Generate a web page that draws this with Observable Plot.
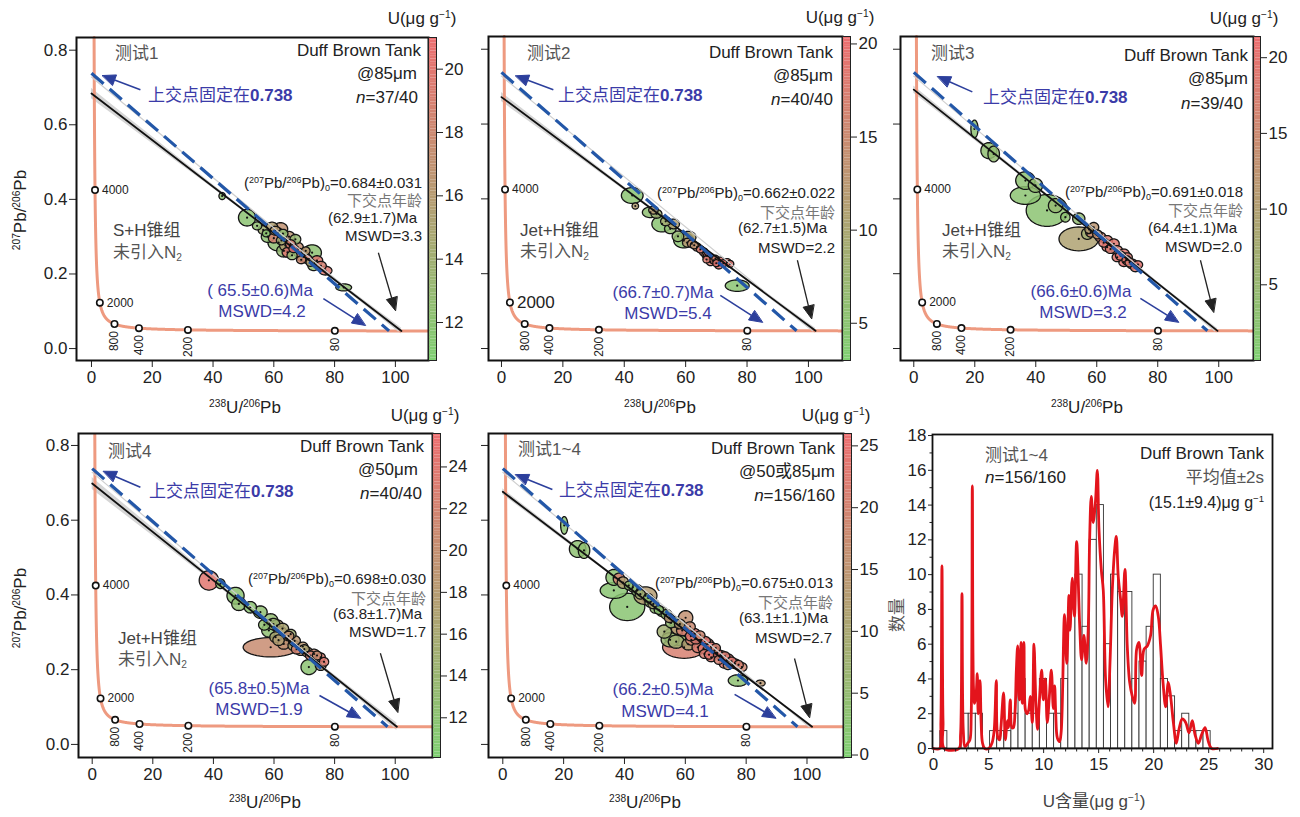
<!DOCTYPE html>
<html><head><meta charset="utf-8">
<script src="https://cdn.jsdelivr.net/npm/d3@7"></script>
<script src="https://cdn.jsdelivr.net/npm/@observablehq/plot@0.6"></script>
<style>
body{margin:0;background:#fff;}
#root{position:relative;width:1300px;height:817px;overflow:hidden;font-family:"Liberation Sans",Arial,"Noto Sans CJK SC",sans-serif;}
#root svg{position:absolute;overflow:visible;}
.abs{position:absolute;white-space:nowrap;line-height:1;}
.sup{font-size:0.6em;position:relative;top:-0.6em;}
.sub{font-size:0.6em;position:relative;top:0.3em;}
</style></head>
<body><div id="root"></div>
<script>
// ---------------- DATA ----------------
// Tera-Wasserburg concordia constants (decay constants per Ma, 238U/235U)
const LAMBDA238 = 1.55125e-4, LAMBDA235 = 9.8485e-4, U238_U235 = 137.88;
const concordiaAges = [4000, 2000, 800, 400, 200, 80];

const panelNames = ["测试1", "测试2", "测试3", "测试4", "测试1~4"];
const spotSizes = ["@85μm", "@85μm", "@85μm", "@50μm", "@50或85μm"];
const nCounts = ["37/40", "40/40", "39/40", "40/40", "156/160"];
const groupNames = ["S+H锥组", "Jet+H锥组", "Jet+H锥组", "Jet+H锥组", null];
const initialPb = ["0.684±0.031", "0.662±0.022", "0.691±0.018", "0.698±0.030", "0.675±0.013"];
const freeAges = [62.9, 62.7, 64.4, 63.8, 63.1];
const freeAgeErr = [1.7, 1.5, 1.1, 1.7, 1.1];
const freeMSWD = [3.3, 2.2, 2.0, 1.7, 2.7];
const freeLineY0 = [0.684, 0.672, 0.692, 0.698, 0.676];
const freeBand = [[0.014, 0.003, 0.008], [0.012, 0.003, 0.007], [0.010, 0.003, 0.006], [0.016, 0.004, 0.010], [0.008, 0.002, 0.004]];
const fixedAges = [65.5, 66.7, 66.6, 65.8, 66.2];
const fixedAgeErr = [0.6, 0.7, 0.6, 0.5, 0.5];
const fixedMSWD = [4.2, 5.4, 3.2, 1.9, 4.1];
const upperFixed = 0.738;

const uDomains = [[10.8, 21], [3, 20.4], [0, 21.4], [10.1, 25.6], [-0.2, 26]];
const uTicks = [[12, 14, 16, 18, 20], [5, 10, 15, 20], [5, 10, 15, 20], [12, 14, 16, 18, 20, 22, 24], [0, 5, 10, 15, 20, 25]];
const xTicks = [0, 20, 40, 60, 80, 100];
const yTicks = [0, 0.2, 0.4, 0.6, 0.8];

// ellipses: [238U/206Pb, 207Pb/206Pb, x semi-axis, y semi-axis, U μg/g]
const ell1 = [
 [43.0,0.409,0.9,0.008,12.2],[51.2,0.351,2.4,0.019,12.0],[54.5,0.329,1.3,0.009,12.5],[57.5,0.309,1.1,0.008,12.0],
 [59.4,0.326,1.6,0.011,15.5],[62.2,0.321,2.0,0.014,17.0],[60.5,0.316,1.5,0.010,16.0],[61.6,0.284,3.0,0.019,12.3],
 [63.8,0.276,1.6,0.012,15.5],[65.5,0.280,1.4,0.010,19.5],[67.1,0.293,1.5,0.011,13.0],[65.0,0.300,1.6,0.012,16.5],
 [63.3,0.262,2.0,0.014,12.8],[66.5,0.268,1.3,0.009,20.5],[68.2,0.257,1.4,0.010,19.0],[70.5,0.262,1.2,0.009,16.5],
 [69.8,0.246,1.8,0.012,12.5],[72.6,0.257,2.6,0.018,12.2],[74.2,0.236,1.6,0.011,19.8],[73.1,0.222,1.6,0.011,12.5],
 [77.0,0.209,1.8,0.010,20.0],[83.0,0.164,2.2,0.008,12.5],
 [56.5,0.318,1.4,0.010,14.0],[58.0,0.300,1.8,0.013,12.2],[60.0,0.296,1.5,0.011,19.0],[62.5,0.290,1.4,0.010,14.5],
 [64.5,0.258,1.5,0.011,20.0],[66.0,0.250,1.4,0.010,12.8],[67.8,0.272,1.6,0.011,17.5],[69.0,0.238,1.3,0.009,18.0],
 [71.0,0.240,1.4,0.010,20.5],[75.5,0.222,1.5,0.010,19.0],[72.0,0.231,1.2,0.009,15.0],[63.0,0.308,1.4,0.010,12.5]];
const ell2 = [
 [42.6,0.409,3.0,0.018,5.0],[43.6,0.381,0.9,0.007,11.5],[48.5,0.364,2.2,0.012,5.5],[50.5,0.360,1.5,0.010,8.0],
 [52.3,0.333,2.8,0.018,4.8],[55.0,0.320,1.6,0.011,6.0],[56.1,0.333,1.6,0.011,11.0],[59.4,0.289,2.8,0.017,5.0],
 [61.0,0.298,2.0,0.013,10.5],[62.0,0.280,1.2,0.009,14.0],[63.7,0.271,1.2,0.009,16.0],[65.9,0.258,1.2,0.009,17.5],
 [66.5,0.250,1.0,0.008,15.0],[68.1,0.244,1.1,0.008,18.5],[69.7,0.240,1.0,0.008,16.0],[71.3,0.235,1.1,0.008,19.0],
 [73.5,0.231,1.1,0.008,18.0],[68.1,0.231,1.1,0.008,17.5],[70.8,0.222,1.1,0.008,19.5],[76.8,0.168,3.3,0.013,5.0],
 [64.8,0.265,1.1,0.008,18.0],[67.0,0.248,1.0,0.008,19.0],[69.0,0.236,1.1,0.008,17.0],[72.3,0.228,1.0,0.008,19.5],
 [74.5,0.226,1.0,0.008,18.5],[62.8,0.276,1.1,0.008,13.0],[57.5,0.300,1.6,0.012,6.5],[53.5,0.340,1.4,0.010,9.0],
 [49.5,0.370,1.3,0.009,12.0],[60.5,0.283,1.3,0.010,12.0],[66.8,0.238,1.0,0.008,18.0],[70.0,0.228,1.0,0.008,19.0]];
const ell3 = [
 [19.9,0.587,1.0,0.020,3.0],[24.6,0.529,2.2,0.018,3.5],[26.2,0.520,1.6,0.018,4.0],[36.6,0.449,2.7,0.020,3.0],
 [39.9,0.436,2.0,0.016,4.0],[36.6,0.409,4.2,0.020,2.5],[43.7,0.369,5.8,0.036,2.5],[46.5,0.382,2.0,0.016,4.5],
 [49.7,0.351,1.3,0.011,3.0],[54.1,0.347,1.7,0.013,4.0],[54.1,0.293,5.5,0.027,9.5],[56.9,0.307,1.6,0.013,7.0],
 [59.0,0.324,1.4,0.011,12.0],[61.2,0.298,1.5,0.011,17.5],[63.4,0.289,1.5,0.011,18.5],[65.6,0.280,1.5,0.011,19.0],
 [63.4,0.271,1.4,0.010,19.5],[66.7,0.262,1.5,0.011,18.0],[68.9,0.253,1.5,0.011,19.5],[70.0,0.244,1.4,0.010,18.5],
 [71.6,0.226,1.5,0.011,20.0],[72.7,0.217,1.4,0.010,19.0],[68.9,0.231,1.4,0.010,20.5],[66.7,0.244,1.4,0.010,19.5],
 [62.3,0.283,1.4,0.010,19.0],[64.5,0.266,1.4,0.010,18.0],[67.8,0.248,1.4,0.010,20.0],[69.8,0.236,1.3,0.010,19.0],
 [70.8,0.230,1.3,0.010,18.0],[58.0,0.311,1.4,0.011,15.0],[60.2,0.305,1.3,0.010,13.5],[73.5,0.224,1.3,0.009,20.0],
 [57.5,0.318,1.2,0.009,10.0]];
const ell4 = [
 [38.5,0.439,2.7,0.022,24.0],[42.3,0.430,1.3,0.011,12.0],[47.3,0.398,2.4,0.019,12.0],[48.4,0.376,2.0,0.015,12.5],
 [52.2,0.367,1.7,0.013,12.0],[55.5,0.354,1.9,0.014,12.5],[58.9,0.332,2.0,0.015,13.0],[58.9,0.260,7.7,0.022,20.5],
 [61.0,0.318,1.8,0.013,17.5],[58.3,0.305,2.0,0.015,12.5],[62.1,0.300,1.8,0.013,19.0],[60.5,0.287,1.6,0.012,16.0],
 [64.3,0.283,1.8,0.013,18.0],[65.5,0.295,1.5,0.011,15.0],[63.2,0.269,1.7,0.012,19.5],[66.5,0.265,1.6,0.012,17.0],
 [69.5,0.262,1.4,0.010,18.5],[68.8,0.251,1.5,0.011,19.0],[71.0,0.247,1.5,0.011,20.0],[73.2,0.242,1.5,0.011,21.5],
 [75.4,0.233,1.3,0.010,23.0],[71.5,0.207,2.2,0.017,12.0],[75.4,0.211,1.5,0.011,17.5],
 [59.8,0.322,1.8,0.013,14.0],[62.8,0.310,1.7,0.012,16.5],[64.8,0.290,1.5,0.011,20.0],[66.8,0.277,1.6,0.012,18.5],
 [67.5,0.255,1.5,0.011,22.0],[70.0,0.255,1.4,0.010,16.5],[72.0,0.238,1.4,0.010,22.5],[74.2,0.238,1.3,0.010,20.5],
 [76.5,0.221,1.3,0.010,23.5],[61.5,0.279,1.6,0.012,17.5],[56.8,0.320,1.6,0.012,12.5]];
const ell5 = [
 [20.2,0.586,1.0,0.020,3.0],[24.6,0.523,2.3,0.019,3.5],[26.7,0.519,1.6,0.018,4.0],[36.5,0.447,2.2,0.018,3.0],
 [38.2,0.443,1.6,0.013,21.0],[36.5,0.412,3.8,0.018,2.5],[41.4,0.425,1.2,0.010,4.0],[44.2,0.412,1.6,0.013,3.5],
 [40.9,0.368,4.9,0.031,2.5],[46.9,0.398,3.2,0.020,13.0],[48.6,0.381,1.6,0.012,5.0],[50.2,0.364,1.5,0.011,4.0],
 [52.4,0.355,1.5,0.011,6.0],[53.1,0.302,2.0,0.015,8.0],[55.3,0.325,1.5,0.011,5.0],[60.1,0.339,2.0,0.016,16.0],
 [58.5,0.291,4.9,0.022,3.0],[59.6,0.260,6.0,0.025,21.0],[55.0,0.280,2.5,0.016,6.0],[57.5,0.310,1.8,0.013,15.0],
 [60.8,0.301,1.6,0.012,23.0],[63.0,0.296,1.6,0.012,24.0],[62.0,0.280,1.6,0.012,21.0],[65.2,0.278,1.6,0.012,23.5],
 [67.4,0.269,1.6,0.012,24.5],[64.1,0.260,1.6,0.012,22.0],[66.3,0.242,1.4,0.010,22.0],[69.6,0.251,1.5,0.011,24.0],
 [68.5,0.233,1.4,0.010,23.5],[71.9,0.238,1.5,0.011,23.0],[72.8,0.216,1.4,0.010,24.0],[74.1,0.229,1.5,0.011,24.5],
 [76.3,0.216,1.5,0.011,22.5],[78.6,0.207,1.4,0.010,19.0],[77.3,0.171,2.7,0.013,3.5],[84.7,0.164,1.3,0.007,14.0],
 [39.5,0.433,1.6,0.013,12.0],[42.7,0.420,1.3,0.010,5.0],[45.2,0.402,1.4,0.011,8.0],[47.8,0.392,1.3,0.010,3.5],
 [49.5,0.376,1.5,0.011,10.0],[51.3,0.360,1.3,0.010,3.0],[53.8,0.348,1.5,0.011,5.0],[54.8,0.338,1.4,0.010,14.0],
 [56.5,0.328,1.6,0.012,8.0],[58.2,0.322,1.5,0.011,13.0],[61.5,0.315,1.5,0.011,18.0],[59.0,0.305,1.6,0.012,20.0],
 [61.8,0.290,1.5,0.011,23.5],[63.5,0.283,1.6,0.012,22.5],[64.8,0.292,1.4,0.010,19.0],[66.5,0.276,1.5,0.011,24.0],
 [66.0,0.257,1.5,0.011,23.0],[68.5,0.262,1.4,0.010,22.5],[70.5,0.244,1.4,0.010,24.5],[70.0,0.258,1.3,0.010,20.0],
 [73.0,0.236,1.4,0.010,22.0],[75.2,0.222,1.4,0.010,23.5],[77.5,0.213,1.3,0.010,20.5],[74.0,0.212,1.3,0.010,16.0],
 [71.0,0.226,1.3,0.010,21.0],[67.8,0.240,1.3,0.010,24.0],[61.0,0.268,1.8,0.013,12.0],[57.0,0.275,2.2,0.015,8.0]];
const ellipseSets = [ell1, ell2, ell3, ell4, ell5];

// annotation arrows [x1, y1, x2, y2] in data units
const upperArrows = [[16.1,0.694,3.6,0.732],[16.9,0.692,4.6,0.729],[19.2,0.686,7.8,0.727],[15.9,0.688,3.7,0.731],[16.3,0.682,4.2,0.722]];
const lowerArrows = [[76.3,0.134,90.1,0.062],[71.3,0.142,85.0,0.070],[74.3,0.134,86.8,0.070],[75.0,0.131,88.5,0.070],[76.2,0.134,89.7,0.070]];
const freeArrows = [[94.4,0.257,100.0,0.102],[96.4,0.236,101.0,0.080],[94.0,0.236,98.3,0.097],[95.1,0.244,100.8,0.086],[95.9,0.230,100.8,0.072]];

// histogram of U content (all tests)
const histStart = 0.605, histWidth = 0.6467;
const histCounts = [1,0,0,2,2,2,0,1,1,1,2,4,2,2,4,2,2,4,8,10,7,12,14,6,10,9,9,4,5,7,10,4,3,1,2,1,1,1];
const kde = [[0,0],[0.55,0],[0.66,1.5],[0.76,10.5],[0.86,1.5],[0.97,0],[2.3,0],[2.45,0.8],[2.58,8.9],[2.7,1.0],[2.85,0.1],
 [3.1,0.3],[3.3,0.5],[3.42,2],[3.52,15.1],[3.62,3.6],[3.72,2.6],[3.85,3.0],[3.97,4.3],[4.05,2.0],[4.12,3.0],[4.22,3.9],
 [4.32,1.5],[4.45,0.3],[4.65,0],[5.0,0],[5.3,0.3],[5.5,1.0],[5.7,3.9],[5.85,0.6],[6.0,0.5],[6.12,1.2],[6.36,3.2],[6.52,0.5],
 [6.7,1.6],[6.8,1.2],[6.97,2.8],[7.12,1.2],[7.25,1.2],[7.4,2.1],[7.52,4.5],[7.64,5.9],[7.75,3.0],[7.82,2.8],[7.94,6.1],
 [8.06,2.6],[8.21,6.1],[8.35,2.2],[8.5,2.0],[8.64,2.2],[8.79,3.0],[8.97,1.5],[9.12,6.0],[9.3,2.6],[9.45,1.1],[9.64,3.0],
 [9.82,4.5],[9.97,2.8],[10.15,4.0],[10.33,1.5],[10.52,3.0],[10.7,4.5],[10.88,2.3],[11.0,3.6],[11.1,2.0],[11.25,0.6],
 [11.45,0.4],[11.6,1.0],[11.9,7.7],[12.1,4.9],[12.3,8.8],[12.4,6.8],[12.6,9.8],[12.8,7.6],[13.0,11.9],[13.27,7.2],
 [13.45,5.1],[13.66,6.5],[13.87,4.9],[14.05,6.8],[14.18,12.0],[14.33,14.5],[14.5,13.0],[14.7,14.1],[14.88,16.0],
 [15.03,12.6],[15.24,10.3],[15.42,9.1],[15.63,4.0],[15.85,2.4],[16.03,4.9],[16.24,9.1],[16.45,11.4],[16.6,12.2],
 [16.78,9.9],[16.99,8.6],[17.15,7.6],[17.39,10.3],[17.6,5.9],[17.82,3.8],[18.06,3.0],[18.27,2.6],[18.45,5.7],[18.66,6.1],
 [18.91,4.2],[19.12,5.7],[19.42,5.9],[19.72,6.5],[19.96,8.0],[20.18,8.2],[20.42,7.6],[20.63,5.9],[20.85,3.8],[21.09,2.4],
 [21.33,3.8],[21.54,3.0],[21.79,1.5],[22.06,0.3],[22.3,1.1],[22.6,1.7],[22.91,1.5],[23.21,0.9],[23.51,1.6],[23.76,0.8],
 [24.06,0.3],[24.36,0.8],[24.67,1.2],[24.97,0.4],[25.27,0],[25.8,0]];
const histXTicks = [0, 5, 10, 15, 20, 25, 30];
const histYTicks = [0, 2, 4, 6, 8, 10, 12, 14, 16, 18];

// ---------------- LAYOUT / STYLE ----------------
const FONT = '"Liberation Sans", Arial, "Noto Sans CJK SC", sans-serif';
const GREEN = "#7fcf72", TAN = "#b59c72", RED = "#ec6e70";
const BLUE_TXT = "#3b3ba8", BLUE_LINE = "#2357a8", BLUE_ARW = "#2c3f9c";
const ELLIPSE_DRAW_SCALE = 1.18; // visual size correction for the read-off error ellipses
const layouts = [
 {fx0:76, fx1:428, fy0:37, fy1:360, cb:8, xd:[-4.93,110.9], yd:[-0.032,0.834], yLab:true},
 {fx0:488, fx1:842, fy0:36, fy1:360, cb:8, xd:[-4.23,111.1], yd:[-0.032,0.834], yLab:false, bigAge:true},
 {fx0:900, fx1:1253, fy0:36, fy1:360, cb:7, xd:[-4.36,111.4], yd:[-0.032,0.834], yLab:false},
 {fx0:78, fx1:432, fy0:433, fy1:757, cb:8, xd:[-4.52,112.3], yd:[-0.035,0.832], yLab:true},
 {fx0:488, fx1:843, fy0:433, fy1:757, cb:8, xd:[-4.7,112.0], yd:[-0.035,0.832], yLab:false}
];
const root = document.getElementById("root");
const SUP = s => `<span class="sup">${s}</span>`;
const SUB = s => `<span class="sub">${s}</span>`;

function label(html, x, y, o = {}) {
  const d = document.createElement("div");
  d.className = "abs"; d.innerHTML = html;
  const a = o.anchor || "start";
  const tx = a === "start" ? "0" : a === "end" ? "-100%" : "-50%";
  d.style.left = x + "px"; d.style.top = y + "px";
  d.style.transform = `translate(${tx},-50%)` + (o.rotate ? ` rotate(${o.rotate}deg)` : "");
  d.style.fontSize = (o.size || 17) + "px";
  d.style.color = o.color || "#222";
  if (o.weight) d.style.fontWeight = o.weight;
  root.appendChild(d);
}
function put(svg, left, top) { svg.style.left = left + "px"; svg.style.top = top + "px"; root.appendChild(svg); }

function tw(t) {
  const e8 = Math.exp(LAMBDA238 * t) - 1, e5 = Math.exp(LAMBDA235 * t) - 1;
  return [1 / e8, e5 / (U238_U235 * e8)];
}
function colorScale(i) {
  const [lo, hi] = uDomains[i];
  return {type: "linear", domain: [lo, (lo + hi) / 2, hi], range: [GREEN, TAN, RED], interpolate: "rgb"};
}

function arrowParts(arrows, kx, ky, len, half) {
  const shafts = [], heads = [];
  arrows.forEach(([x1, y1, x2, y2], id) => {
    const dxp = (x2 - x1) * kx, dyp = -(y2 - y1) * ky, L = Math.hypot(dxp, dyp);
    const ux = dxp / L, uy = dyp / L, px = -uy, py = ux;
    const toData = (ox, oy) => ({x: x2 + ox / kx, y: y2 - oy / ky});
    const b = toData(-len * ux, -len * uy);
    shafts.push({x1, y1, x2: b.x, y2: b.y});
    heads.push({id, ...toData(0, 0)});
    heads.push({id, ...toData(-len * ux + half * px, -len * uy + half * py)});
    heads.push({id, ...toData(-len * ux - half * px, -len * uy - half * py)});
  });
  return {shafts, heads};
}

function twPanel(i) {
  const L = layouts[i];
  const [xmin, xmax] = L.xd, [ymin, ymax] = L.yd;
  const fw = L.fx1 - L.fx0, fh = L.fy1 - L.fy0;
  const kx = fw / (xmax - xmin), ky = fh / (ymax - ymin);
  const ML = 60, MT = 5, MR = 1, MB = 40;

  const steps = 3000, t0 = Math.log(50), t1 = Math.log(5300);
  const conc = d3.range(steps + 1).map(j => tw(Math.exp(t0 + (t1 - t0) * j / steps)))
    .filter(([x, y]) => x <= xmax && y <= ymax).map(([x, y]) => ({x, y}));
  const ages = concordiaAges.map(a => { const [x, y] = tw(a); return {a, x, y}; });

  const [xL, yL] = tw(freeAges[i]);
  const [xB, yB] = tw(fixedAges[i]);
  const y0 = freeLineY0[i];
  const lineAt = x => y0 + (yL - y0) * x / xL;
  const bw = freeBand[i];
  const band = [{x: 0, w: bw[0]}, {x: xL * 0.55, w: bw[1]}, {x: xL, w: bw[2]}]
    .map(d => ({x: d.x, lo: lineAt(d.x) - d.w, hi: lineAt(d.x) + d.w}));

  const s = ELLIPSE_DRAW_SCALE;
  const ell = ellipseSets[i].map(([cx, cy, rx, ry, u]) => ({cx, cy, rx, ry, u}))
    .sort((a, b) => b.rx * b.ry - a.rx * a.ry);
  const polys = [];
  ell.forEach((e, id) => {
    for (let j = 0; j < 48; j++) {
      const a = 2 * Math.PI * j / 48;
      polys.push({id, u: e.u, x: e.cx + s * e.rx * Math.cos(a), y: e.cy + s * e.ry * Math.sin(a)});
    }
  });

  const blueA = arrowParts([upperArrows[i], lowerArrows[i]], kx, ky, 13, 5.5);
  const blackA = arrowParts([freeArrows[i]], kx, ky, 13, 5.5);

  const svg = Plot.plot({
    width: fw + ML + MR, height: fh + MT + MB,
    marginLeft: ML, marginRight: MR, marginTop: MT, marginBottom: MB,
    style: {fontSize: "17px", fontFamily: FONT, color: "#222", background: "none", overflow: "visible"},
    x: {domain: L.xd, ticks: xTicks, tickSize: 7, tickPadding: 3, label: null},
    y: {domain: L.yd, ticks: yTicks, tickSize: 7, tickPadding: 2, label: null,
        tickFormat: L.yLab ? d3.format(".1f") : () => ""},
    color: colorScale(i),
    marks: [
      Plot.area(band, {x1: "x", y1: "lo", y2: "hi", fill: "#b9b9b9", fillOpacity: 0.6, curve: "natural"}),
      Plot.line(conc, {x: "x", y: "y", stroke: "#ee9a80", strokeWidth: 3}),
      Plot.line(polys, {x: "x", y: "y", z: "id", fill: "u", fillOpacity: 0.85, stroke: "#151515", strokeWidth: 1.3, curve: "linear-closed"}),
      Plot.dot(ell, {x: "cx", y: "cy", r: 1.1, fill: "#111"}),
      Plot.line([{x: 0, y: upperFixed - 0.01}, {x: xL - 1, y: yL}], {x: "x", y: "y", stroke: "#cfcfcf", strokeWidth: 1.2}),
      Plot.line([{x: 0, y: y0}, {x: xL, y: yL}], {x: "x", y: "y", stroke: "#111", strokeWidth: 1.8}),
      Plot.line([{x: 0, y: upperFixed}, {x: xB, y: yB}], {x: "x", y: "y", stroke: BLUE_LINE, strokeWidth: 3.2, strokeDasharray: "16,8", strokeLinecap: "butt"}),
      Plot.link(blueA.shafts, {x1: "x1", y1: "y1", x2: "x2", y2: "y2", stroke: BLUE_ARW, strokeWidth: 1.6}),
      Plot.line(blueA.heads, {x: "x", y: "y", z: "id", fill: BLUE_ARW, stroke: BLUE_ARW, strokeWidth: 1, curve: "linear-closed"}),
      Plot.link(blackA.shafts, {x1: "x1", y1: "y1", x2: "x2", y2: "y2", stroke: "#222", strokeWidth: 1.3}),
      Plot.line(blackA.heads, {x: "x", y: "y", z: "id", fill: "#222", stroke: "#222", strokeWidth: 1, curve: "linear-closed"}),
      Plot.dot(ages, {x: "x", y: "y", r: 3.2, fill: "white", stroke: "#111", strokeWidth: 1.6}),
      Plot.text(ages.filter(d => d.a === 4000), {x: "x", y: "y", text: d => String(d.a), textAnchor: "start", dx: 7, fontSize: 12, fill: "#222"}),
      Plot.text(ages.filter(d => d.a === 2000), {x: "x", y: "y", text: d => String(d.a), textAnchor: "start", dx: 7,
        fontSize: L.bigAge ? 17 : 12, fill: "#222"}),
      Plot.text(ages.filter(d => d.a < 2000), {x: "x", y: "y", text: d => String(d.a), textAnchor: "end", rotate: -90, dy: 7, fontSize: 12, fill: "#222"}),
      Plot.frame({stroke: "#111", strokeWidth: 2})
    ]
  });
  put(svg, L.fx0 - ML, L.fy0 - MT);

  // colorbar
  const [lo, hi] = uDomains[i];
  const n = 120, st = (hi - lo) / n;
  const cells = d3.range(n).map(j => ({y1: lo + j * st, y2: lo + (j + 1) * st, v: lo + (j + 0.5) * st, a: 0, b: 1}));
  const cb = Plot.plot({
    width: L.cb + 40, height: fh + MT + MB, marginLeft: 0, marginRight: 40, marginTop: MT, marginBottom: MB,
    style: {fontSize: "17px", fontFamily: FONT, color: "#222", background: "none", overflow: "visible"},
    x: {domain: [0, 1], axis: null},
    y: {domain: uDomains[i], axis: "right", ticks: uTicks[i], tickSize: 6, tickPadding: 2, label: null},
    color: colorScale(i),
    marks: [
      Plot.rect(cells, {x1: "a", x2: "b", y1: "y1", y2: "y2", fill: "v"}),
      Plot.frame({stroke: "#222", strokeWidth: 1})
    ]
  });
  put(cb, L.fx1, L.fy0 - MT);
}

for (let i = 0; i < 5; i++) twPanel(i);

// ---------------- histogram panel ----------------
(function () {
  const fx0 = 932, fx1 = 1272, fy0 = 434, fy1 = 748;
  const ML = 50, MT = 5, MR = 5, MB = 35;
  const bins = histCounts.map((c, k) => ({x1: histStart + k * histWidth, x2: histStart + (k + 1) * histWidth, y1: 0, c})).filter(d => d.c > 0);
  const line = kde.map(([x, y]) => ({x, y}));
  const minorX = d3.range(1, 31).filter(v => v % 5 !== 0).map(v => ({v, a: 0, b: -3 / 17.4}));
  const minorY = d3.range(1, 18, 2).map(v => ({v, a: -0.1, b: -0.1 - 3 / 11}));
  const svg = Plot.plot({
    width: fx1 - fx0 + ML + MR, height: fy1 - fy0 + MT + MB,
    marginLeft: ML, marginRight: MR, marginTop: MT, marginBottom: MB,
    style: {fontSize: "17px", fontFamily: FONT, color: "#222", background: "none", overflow: "visible"},
    x: {domain: [-0.1, 30.8], ticks: histXTicks, tickSize: 5, tickPadding: 4, label: null},
    y: {domain: [0, 18.06], ticks: histYTicks, tickSize: 4, tickPadding: 2, label: null},
    marks: [
      Plot.rect(bins, {x1: "x1", x2: "x2", y1: "y1", y2: "c", fill: "white", stroke: "#333", strokeWidth: 0.9}),
      Plot.line(line, {x: "x", y: "y", stroke: "#e3141c", strokeWidth: 2.8, curve: "catmull-rom"}),
      Plot.link(minorX, {x1: "v", x2: "v", y1: "a", y2: "b", stroke: "#222"}),
      Plot.link(minorY, {x1: "a", x2: "b", y1: "v", y2: "v", stroke: "#222"}),
      Plot.frame({stroke: "#111", strokeWidth: 1.8})
    ]
  });
  put(svg, fx0 - ML, fy0 - MT);
})();

// ---------------- text annotations ----------------
const pbLabel = v => `(${SUP("207")}Pb/${SUP("206")}Pb)${SUB("0")}=${v}`;
const ann = [
 {name:[115,53], dbt:[421,50], spot:[417,73], n:[418,97], up:[148,95], pb:[422,182], lo:[422,200], age:[417,217], mswd:[422,235],
  g1:[113,230], g2:[113,252], fa:[260,290], fm:[262,311], title:[422,18], xl:[245,407], yl:[20,210]},
 {name:[527,53], dbt:[833,52], spot:[833,75], n:[833,99], up:[558,95], pb:[835,192], lo:[835,212], age:[827,227], mswd:[835,247],
  g1:[520,230], g2:[520,251], fa:[663,292], fm:[668,313], title:[840,17], xl:[660,407]},
 {name:[931,53], dbt:[1248,55], spot:[1248,78], n:[1243,103], up:[983,97], pb:[1243,191], lo:[1243,210], age:[1237,227], mswd:[1242,246],
  g1:[942,230], g2:[942,251], fa:[1081,291], fm:[1083,312], title:[1244,18], xl:[1087,407]},
 {name:[108,451], dbt:[424,446], spot:[418,469], n:[422,493], up:[149,491], pb:[426,578], lo:[426,598], age:[422,613], mswd:[426,631],
  g1:[118,638], g2:[118,659], fa:[259,688], fm:[259,709], title:[425,415], xl:[265,802], yl:[20,608]},
 {name:[518,449], dbt:[835,448], spot:[835,471], n:[835,495], up:[559,490], pb:[833,582], lo:[833,602], age:[828,617], mswd:[832,637],
  fa:[663,689], fm:[665,711], title:[836,415], xl:[645,802]}
];
ann.forEach((a, i) => {
  label(panelNames[i], a.name[0], a.name[1], {color: "#555"});
  label("Duff Brown Tank", a.dbt[0], a.dbt[1], {anchor: "end"});
  label(spotSizes[i], a.spot[0], a.spot[1], {anchor: "end"});
  label(`<i>n</i>=${nCounts[i]}`, a.n[0], a.n[1], {anchor: "end"});
  label(`上交点固定在<b>${upperFixed}</b>`, a.up[0], a.up[1], {color: BLUE_TXT});
  label(pbLabel(initialPb[i]), a.pb[0], a.pb[1], {anchor: "end", size: 15});
  label("下交点年龄", a.lo[0], a.lo[1], {anchor: "end", size: 15, color: "#777"});
  label(`(${freeAges[i].toFixed(1)}±${freeAgeErr[i].toFixed(1)})Ma`, a.age[0], a.age[1], {anchor: "end", size: 15});
  label(`MSWD=${freeMSWD[i].toFixed(1)}`, a.mswd[0], a.mswd[1], {anchor: "end", size: 15});
  if (groupNames[i]) {
    label(groupNames[i], a.g1[0], a.g1[1], {color: "#444"});
    label(`未引入N${SUB("2")}`, a.g2[0], a.g2[1], {color: "#555"});
  }
  label(`(${i === 0 ? " " : ""}${fixedAges[i].toFixed(1)}±${fixedAgeErr[i].toFixed(1)})Ma`, a.fa[0], a.fa[1], {anchor: "middle", color: BLUE_TXT});
  label(`MSWD=${fixedMSWD[i].toFixed(1)}`, a.fm[0], a.fm[1], {anchor: "middle", color: BLUE_TXT});
  label(`U(μg g${SUP("−1")})`, a.title[0], a.title[1], {anchor: "middle"});
  label(`${SUP("238")}U/${SUP("206")}Pb`, a.xl[0], a.xl[1], {anchor: "middle"});
  if (a.yl) label(`${SUP("207")}Pb/${SUP("206")}Pb`, a.yl[0], a.yl[1], {anchor: "middle", rotate: -90});
});
// histogram texts
label("测试1~4", 985, 455, {color: "#555"});
label("<i>n</i>=156/160", 985, 477);
label("Duff Brown Tank", 1264, 453, {anchor: "end"});
label("平均值±2s", 1264, 477, {anchor: "end", color: "#555"});
label(`(15.1±9.4)μg g${SUP("−1")}`, 1264, 503, {anchor: "end", size: 16});
label("数量", 897, 615, {anchor: "middle", rotate: -90, color: "#555"});
label(`U含量(μg g${SUP("−1")})`, 1094, 801, {anchor: "middle", color: "#444"});
</script>
</body></html>
